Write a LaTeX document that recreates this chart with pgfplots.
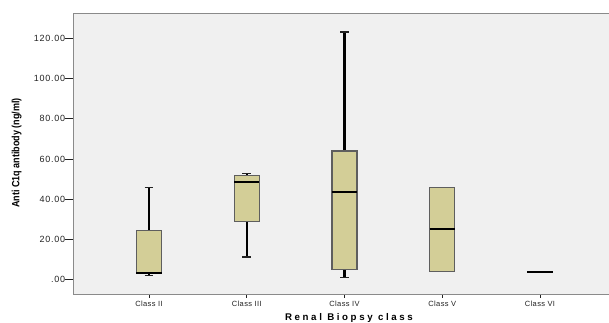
\documentclass[border=0pt]{standalone}
\usepackage{fontspec}
\setmainfont{Liberation Sans}
\newfontfamily\tickfont[LetterSpace=8]{Liberation Sans}
\newfontfamily\xtickfont[LetterSpace=5]{Liberation Sans}
\newfontfamily\xlabfont[LetterSpace=27]{Liberation Sans}
\newfontfamily\ylabfont[FakeStretch=0.86]{Liberation Sans}
\usepackage{pgfplots}
\pgfplotsset{compat=1.18}
\usepgfplotslibrary{statistics}
\definecolor{bggray}{HTML}{F0F0F0}
\definecolor{boxfill}{HTML}{D3CE97}
\definecolor{boxedge}{HTML}{5E5E5E}
\definecolor{framegray}{HTML}{8A8A8A}
\definecolor{txt}{HTML}{222222}
\begin{document}
\begin{tikzpicture}
\begin{axis}[
  at={(0,0)}, anchor=south west,
  scale only axis,
  width=544.9bp, height=280bp,
  xmin=0.2256, xmax=5.8,
  ymin=-7.33, ymax=132.3,
  axis background/.style={fill=bggray},
  axis line style={framegray, line width=1bp},
  tick pos=left,
  tick align=outside,
  major tick length=8bp,
  tick style={txt, line width=0.8bp},
  xtick={1,2,3,4,5},
  xticklabels={Class II,Class III,Class IV,Class V,Class VI},
  x tick style={/pgfplots/major tick length=3.5bp},
  ytick={0,20,40,60,80,100,120},
  yticklabels={.00,20.00,40.00,60.00,80.00,100.00,120.00},
  yticklabel style={font=\tickfont\fontsize{9bp}{10bp}\selectfont, text=txt, anchor=east, inner sep=0pt},
  xticklabel style={font=\xtickfont\fontsize{7.5bp}{8bp}\selectfont, text=txt, yshift=4bp},
  xlabel={Renal Biopsy class},
  ylabel={Anti C1q antibody (ng/ml)},
  xlabel style={font=\xlabfont\bfseries\fontsize{9.7bp}{11bp}\selectfont, at={(axis description cs:0.5058,0)}, anchor=center, yshift=-24bp},
  ylabel style={font=\ylabfont\bfseries\fontsize{10.5bp}{12bp}\selectfont, at={(axis description cs:0,0.5036)}, anchor=center, yshift=56.6bp},
  boxplot/draw direction=y,
  boxplot/box extend=0.256,
  boxplot/whisker extend=0.09,
  boxplot/every box/.style={draw=boxedge, fill=boxfill, line width=1.2bp},
  boxplot/every median/.style={draw=black, line width=1.8bp},
  boxplot/draw/lower whisker/.code={%
    \draw[black, line width=2.2bp]
      (boxplot cs:\pgfplotsboxplotvalue{lower whisker})
      -- (boxplot cs:\pgfplotsboxplotvalue{lower quartile});
    \draw[txt, line width=1.5bp]
      (boxplot whisker cs:\pgfplotsboxplotvalue{lower whisker},0)
      -- (boxplot whisker cs:\pgfplotsboxplotvalue{lower whisker},1);
  },
  boxplot/draw/upper whisker/.code={%
    \draw[black, line width=2.2bp]
      (boxplot cs:\pgfplotsboxplotvalue{upper whisker})
      -- (boxplot cs:\pgfplotsboxplotvalue{upper quartile});
    \draw[txt, line width=1.5bp]
      (boxplot whisker cs:\pgfplotsboxplotvalue{upper whisker},0)
      -- (boxplot whisker cs:\pgfplotsboxplotvalue{upper whisker},1);
  },
]
\addplot[boxplot prepared={lower whisker=2.0, lower quartile=2.7, median=3.0, upper quartile=24.3, upper whisker=45.7, draw position=1}] coordinates {};
\addplot[boxplot prepared={lower whisker=11.0, lower quartile=28.7, median=48.7, upper quartile=51.9, upper whisker=52.7, draw position=2}] coordinates {};
\addplot[boxplot prepared={lower whisker=1.0, lower quartile=5.0, median=43.7, upper quartile=64.0, upper whisker=123.2, draw position=3}] coordinates {};
\addplot[boxplot prepared={lower whisker=3.8, lower quartile=3.8, median=24.9, upper quartile=45.7, upper whisker=45.7, draw position=4}] coordinates {};
\addplot[boxplot prepared={lower whisker=3.5, lower quartile=3.5, median=3.5, upper quartile=3.5, upper whisker=3.5, draw position=5}] coordinates {};
\end{axis}
\pgfresetboundingbox
\path[use as bounding box] (-73.3bp,-29bp) rectangle (535.7bp,294bp);
\end{tikzpicture}
\end{document}
